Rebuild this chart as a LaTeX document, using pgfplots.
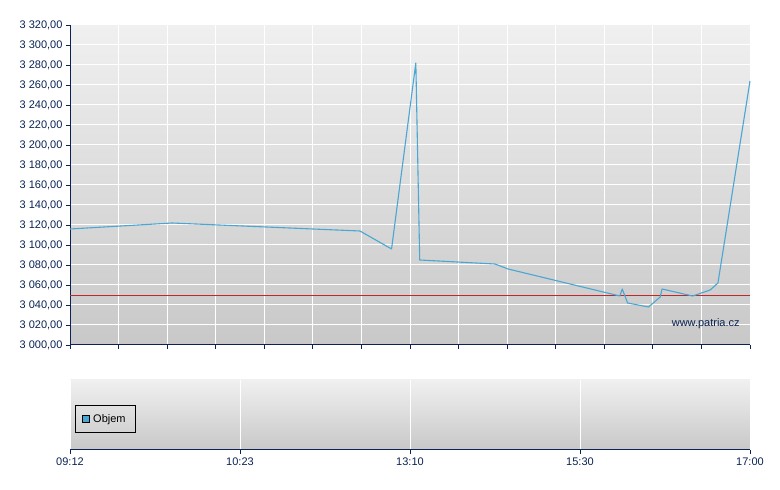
\documentclass[border=0pt]{standalone}
\usepackage{fontspec}
\setmainfont{Liberation Sans}
\usepackage{pgfplots}
\pgfplotsset{compat=1.18}
\definecolor{navy}{HTML}{0A2352}
\definecolor{gtop}{HTML}{F0F0F0}
\definecolor{gbot}{HTML}{C8C8C8}
\definecolor{lineblue}{HTML}{4AA6D2}
\definecolor{refred}{HTML}{C0272D}
\begin{document}
\begin{tikzpicture}
\useasboundingbox (0pt,0pt) rectangle (780pt,490pt);
\begin{axis}[
  at={(70pt,145pt)}, anchor=south west,
  width=680pt, height=320pt, scale only axis,
  xmin=0, xmax=14, ymin=3000, ymax=3320,
  xtick={0,1,...,14}, xticklabels={},
  ytick={3000,3020,...,3320},
  axis x line*=bottom, axis y line*=left,
  axis line style={-, draw=navy, line width=1pt},
  xtick pos=left, ytick pos=left,
  tick align=outside, major tick length=4pt,
  tick style={navy, line width=0.8pt},
  grid=major, major grid style={white, line width=1pt},
  axis background/.style={top color=gtop, bottom color=gbot},
  tick label style={font=\fontsize{11}{13}\selectfont, text=navy},
  yticklabel style={/pgf/number format/.cd, fixed, fixed zerofill, precision=2, use comma, 1000 sep={\ }, assume math mode=true},
  clip=false,
]
\addplot[refred, line width=0.8pt] coordinates {(0,3050) (14,3050)};
\addplot[lineblue, line width=1.1pt, line join=round] coordinates {
(0,3116) (2.10,3122) (5.97,3114) (6.62,3096) (7.12,3282) (7.20,3085)
(8.75,3081) (9.02,3076) (11.32,3049) (11.37,3056) (11.48,3042) (11.91,3038)
(12.15,3048) (12.19,3056) (12.82,3049) (13.18,3055) (13.34,3062) (14,3264)
};
\node[anchor=base east, font=\fontsize{11}{13}\selectfont, text=navy] at (rel axis cs:0.99,0.058) {www.patria.cz};
\end{axis}
\begin{axis}[
  at={(70pt,40pt)}, anchor=south west,
  width=680pt, height=70pt, scale only axis,
  xmin=0, xmax=4, ymin=0, ymax=1,
  xtick={0,1,2,3,4}, xticklabels={09:12,10:23,13:10,15:30,17:00},
  ytick=\empty,
  axis x line*=bottom, axis y line=none,
  axis line style={-, draw=navy, line width=1pt},
  xtick pos=left,
  tick align=outside, major tick length=4pt,
  tick style={navy, line width=0.8pt},
  xmajorgrids, major grid style={white, line width=1pt},
  axis background/.style={top color=gtop, bottom color=gbot},
  tick label style={font=\fontsize{11}{13}\selectfont, text=navy},
  legend style={draw=black, fill=none, line width=0.8pt, at={(axis description cs:0.0074,0.443)}, anchor=west, font=\fontsize{11}{13}\selectfont, inner xsep=7pt, inner ysep=7pt, nodes={inner xsep=3pt}},
]
\addlegendimage{legend image code/.code={\draw[fill=lineblue, draw=black, line width=0.8pt] (0pt,-3.5pt) rectangle (7pt,3.5pt);}}
\addlegendentry{Objem}
\end{axis}
\end{tikzpicture}
\end{document}
